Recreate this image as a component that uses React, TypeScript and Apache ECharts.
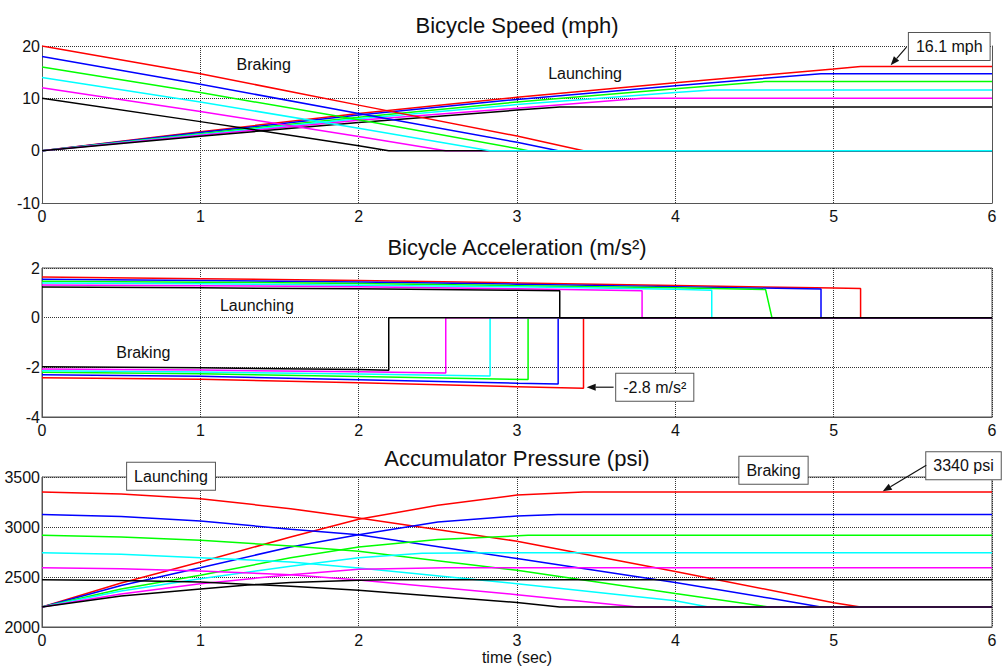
import React, { useEffect, useRef } from 'react';
import * as echarts from 'echarts';

const FONT = '"Liberation Sans", Arial, Helvetica, sans-serif';
const COLORS = ['#ff0000', '#0000ff', '#00ff00', '#00ffff', '#ff00ff', '#000000'];

const TITLES = ['Bicycle Speed (mph)', 'Bicycle Acceleration (m/s\u00B2)', 'Accumulator Pressure (psi)'];
const X_LABEL = 'time (sec)';
const TIME_RANGE = [0, 6, 1];
const SPEED_RANGE = [-10, 20, 10];
const ACCEL_RANGE = [-4, 2, 2];
const PRESSURE_RANGE = [2000, 3500, 500];

// ---- Bicycle speed (mph): braking ----
const spdBrkRed = [[0, 20], [1, 14.7], [2, 8.7], [3, 2.8], [3.42, 0], [6, 0]];
const spdBrkBlue = [[0, 18], [1, 12.7], [2, 7.1], [3, 1.6], [3.26, 0], [6, 0]];
const spdBrkGreen = [[0, 16], [1, 11.1], [2, 5.9], [3, 0.4], [3.07, 0], [6, 0]];
const spdBrkCyan = [[0, 14], [1, 9.3], [2, 4.3], [2.83, 0], [6, 0]];
const spdBrkMagenta = [[0, 12], [1, 7.5], [2, 2.7], [2.55, 0], [6, 0]];
const spdBrkBlack = [[0, 10], [1, 5.55], [2, 0.95], [2.19, 0], [6, 0]];
// ---- Bicycle speed (mph): launching ----
const spdLchRed = [[0, 0], [1, 3.6], [2, 7.1], [3, 10.2], [4, 13.0], [5, 15.6], [5.17, 16.1], [6, 16.1]];
const spdLchBlue = [[0, 0], [1, 3.45], [2, 6.8], [3, 9.8], [4, 12.4], [4.92, 14.7], [6, 14.7]];
const spdLchGreen = [[0, 0], [1, 3.25], [2, 6.4], [3, 9.3], [4, 11.85], [4.57, 13.2], [6, 13.2]];
const spdLchCyan = [[0, 0], [1, 3.1], [2, 6.1], [3, 8.8], [4, 11.1], [4.23, 11.6], [6, 11.6]];
const spdLchMagenta = [[0, 0], [1, 2.95], [2, 5.8], [3, 8.1], [3.79, 10.0], [6, 10.0]];
const spdLchBlack = [[0, 0], [1, 2.75], [2, 5.4], [3, 7.75], [3.27, 8.35], [6, 8.35]];

// ---- Bicycle acceleration (m/s^2): braking ----
const accBrkRed = [[0, -2.42], [1, -2.48], [2, -2.62], [3, -2.78], [3.42, -2.84], [3.42, 0], [6, 0]];
const accBrkBlue = [[0, -2.3], [1, -2.36], [2, -2.5], [3, -2.64], [3.26, -2.67], [3.26, 0], [6, 0]];
const accBrkGreen = [[0, -2.2], [1, -2.26], [2, -2.37], [3.07, -2.49], [3.07, 0], [6, 0]];
const accBrkCyan = [[0, -2.14], [1, -2.19], [2, -2.27], [2.83, -2.35], [2.83, 0], [6, 0]];
const accBrkMagenta = [[0, -2.07], [1, -2.11], [2, -2.18], [2.55, -2.23], [2.55, 0], [6, 0]];
const accBrkBlack = [[0, -1.98], [1, -2.02], [2, -2.09], [2.19, -2.12], [2.19, 0], [6, 0]];
// ---- Bicycle acceleration (m/s^2): launching ----
const accLchRed = [[0, 1.64], [1, 1.57], [2, 1.5], [3, 1.4], [4, 1.3], [5, 1.19], [5.17, 1.17], [5.17, 0], [6, 0]];
const accLchBlue = [[0, 1.55], [1, 1.5], [2, 1.44], [3, 1.35], [4, 1.25], [4.92, 1.15], [4.92, 0], [6, 0]];
const accLchGreen = [[0, 1.47], [1, 1.43], [2, 1.38], [3, 1.29], [4, 1.2], [4.57, 1.13], [4.61, 0], [6, 0]];
const accLchCyan = [[0, 1.4], [1, 1.37], [2, 1.31], [3, 1.24], [4, 1.14], [4.23, 1.1], [4.23, 0], [6, 0]];
const accLchMagenta = [[0, 1.32], [1, 1.29], [2, 1.24], [3, 1.16], [3.79, 1.08], [3.79, 0], [6, 0]];
const accLchBlack = [[0, 1.23], [1, 1.2], [2, 1.16], [3, 1.1], [3.27, 1.08], [3.27, 0], [6, 0]];

// ---- Accumulator pressure (psi): launching ----
const prsLchRed = [[0, 3350], [0.5, 3330], [1, 3283], [1.57, 3183], [2, 3090], [3, 2858], [4, 2555], [5, 2243], [5.17, 2200], [6, 2200]];
const prsLchBlue = [[0, 3125], [0.5, 3105], [1, 3060], [1.57, 2977], [2, 2923], [3, 2685], [4, 2445], [4.6, 2287], [4.92, 2200], [6, 2200]];
const prsLchGreen = [[0, 2917], [0.5, 2900], [1, 2867], [1.57, 2810], [2, 2757], [3, 2567], [4, 2335], [4.59, 2200], [6, 2200]];
const prsLchCyan = [[0, 2743], [0.5, 2728], [1, 2693], [1.57, 2650], [2, 2590], [3, 2433], [4, 2262], [4.21, 2200], [6, 2200]];
const prsLchMagenta = [[0, 2593], [0.5, 2582], [1, 2560], [1.57, 2523], [2, 2470], [3, 2323], [3.76, 2200], [6, 2200]];
const prsLchBlack = [[0, 2473], [0.5, 2465], [1, 2450], [1.57, 2407], [2, 2367], [3, 2245], [3.27, 2200], [6, 2200]];
// ---- Accumulator pressure (psi): braking ----
const prsBrkRed = [[0, 2200], [0.5, 2440], [1, 2650], [1.57, 2900], [2, 3077], [2.5, 3217], [3, 3320], [3.42, 3350], [6, 3350]];
const prsBrkBlue = [[0, 2200], [0.5, 2415], [1, 2593], [1.57, 2800], [2, 2923], [2.5, 3050], [3, 3110], [3.26, 3125], [6, 3125]];
const prsBrkGreen = [[0, 2200], [0.5, 2380], [1, 2517], [1.57, 2693], [2, 2800], [2.5, 2875], [3.07, 2917], [6, 2917]];
const prsBrkCyan = [[0, 2200], [0.5, 2360], [1, 2483], [1.57, 2607], [2, 2693], [2.4, 2737], [2.83, 2743], [6, 2743]];
const prsBrkMagenta = [[0, 2200], [0.5, 2330], [1, 2433], [1.57, 2523], [2, 2577], [2.55, 2593], [6, 2593]];
const prsBrkBlack = [[0, 2200], [0.5, 2310], [1, 2380], [1.3, 2420], [1.57, 2445], [2, 2468], [2.19, 2473], [6, 2473]];

// plain text annotations: [plot, text, t, value]
const NOTES: [number, string, number, number][] = [
  [0, 'Braking', 1.4, 16.4],
  [0, 'Launching', 3.43, 14.8],
  [1, 'Launching', 1.357, 0.49],
  [1, 'Braking', 0.64, -1.42],
];
// boxed annotations: [plot, text, t, value]
const BOXES: [number, string, number, number][] = [
  [0, '16.1 mph', 5.73, 19.9],
  [1, '-2.8 m/s\u00B2', 3.87, -2.8],
  [2, 'Launching', 0.815, 3507],
  [2, 'Braking', 4.62, 3567],
  [2, '3340 psi', 5.82, 3612],
];
// arrows: [plot, fromT, fromV, toT, toV]
const ARROWS: [number, number, number, number, number][] = [
  [0, 5.46, 19.8, 5.36, 16.3],
  [1, 3.61, -2.8, 3.44, -2.8],
  [2, 5.585, 3617, 5.31, 3357],
];

const GRIDS = [
  { left: 42, right: 10, top: 46, height: 157 },
  { left: 42, right: 10, top: 268, height: 149 },
  { left: 42, right: 10, top: 477, height: 150 },
];

function lineSeries(data: number[][], color: string, gi: number) {
  return {
    type: 'line',
    data,
    xAxisIndex: gi,
    yAxisIndex: gi,
    showSymbol: false,
    symbol: 'none',
    silent: true,
    lineStyle: { color, width: 1.5 },
    itemStyle: { color },
  };
}

function xAxis(gi: number) {
  return {
    type: 'value',
    gridIndex: gi,
    min: TIME_RANGE[0],
    max: TIME_RANGE[1],
    interval: TIME_RANGE[2],
    axisLine: { show: true, onZero: false, lineStyle: { color: '#555', width: 1 } },
    axisTick: { show: false },
    axisLabel: { fontSize: 16, color: '#111', fontFamily: FONT, margin: 5 },
    splitLine: { show: true, lineStyle: { type: 'dotted', color: '#333', width: 1 } },
    ...(gi === 2
      ? { name: X_LABEL, nameLocation: 'middle', nameGap: 22, nameTextStyle: { fontSize: 16, color: '#111', fontFamily: FONT } }
      : {}),
  };
}

function yAxis(gi: number, r: number[]) {
  return {
    type: 'value',
    gridIndex: gi,
    min: r[0],
    max: r[1],
    interval: r[2],
    axisLine: { show: true, onZero: false, lineStyle: { color: '#555', width: 1 } },
    axisTick: { show: false },
    axisLabel: { fontSize: 16, color: '#111', fontFamily: FONT, margin: 2, formatter: (v: number) => String(v) },
    splitLine: { show: true, lineStyle: { type: 'dotted', color: '#333', width: 1 } },
  };
}

export default function App() {
  const ref = useRef<HTMLDivElement>(null);
  useEffect(() => {
    document.body.style.margin = '0';
    const chart = echarts.init(ref.current!, null, { renderer: 'svg' });
    const speedSeries = [
      spdLchRed, spdLchBlue, spdLchGreen, spdLchCyan, spdLchMagenta, spdLchBlack,
    ].map((d, i) => lineSeries(d, COLORS[i], 0));
    const speedBrk = [
      [spdBrkRed, 0], [spdBrkBlue, 1], [spdBrkGreen, 2], [spdBrkMagenta, 4], [spdBrkBlack, 5], [spdBrkCyan, 3],
    ].map(([d, i]: any) => lineSeries(d, COLORS[i], 0));
    const accSeries = [
      accBrkRed, accLchRed, accBrkBlue, accLchBlue, accBrkGreen, accLchGreen,
      accBrkCyan, accLchCyan, accBrkMagenta, accLchMagenta, accBrkBlack, accLchBlack,
    ].map((d, i) => lineSeries(d, COLORS[Math.floor(i / 2)], 1));
    const prsSeries = [
      prsLchRed, prsBrkRed, prsLchBlue, prsBrkBlue, prsLchGreen, prsBrkGreen,
      prsLchCyan, prsBrkCyan, prsLchMagenta, prsBrkMagenta, prsLchBlack, prsBrkBlack,
    ].map((d, i) => lineSeries(d, COLORS[Math.floor(i / 2)], 2));

    const titleTops = [14, 236, 447];
    chart.setOption({
      animation: false,
      backgroundColor: '#ffffff',
      title: TITLES.map((t, i) => ({
        text: t,
        left: 517,
        top: titleTops[i],
        textAlign: 'center',
        padding: 0,
        textStyle: { fontSize: 22, fontWeight: 'normal', color: '#111', fontFamily: FONT },
      })),
      grid: GRIDS.map((g, i) => ({
        ...g,
        containLabel: false,
        outerBoundsMode: 'none',
        show: i > 0,
        borderColor: '#555',
        borderWidth: 1,
      })),
      xAxis: [xAxis(0), xAxis(1), xAxis(2)],
      yAxis: [
        yAxis(0, SPEED_RANGE),
        yAxis(1, ACCEL_RANGE),
        yAxis(2, PRESSURE_RANGE),
        {
          type: 'value', gridIndex: 0, position: 'right',
          min: SPEED_RANGE[0], max: SPEED_RANGE[1], interval: SPEED_RANGE[2],
          axisLine: { show: true, onZero: false, lineStyle: { color: '#555', width: 1 } },
          axisTick: { show: false }, axisLabel: { show: false }, splitLine: { show: false },
        },
      ],
      series: [...speedSeries, ...speedBrk, ...accSeries, ...prsSeries],
    });

    const px = (gi: number, t: number, v: number) =>
      chart.convertToPixel({ gridIndex: gi } as any, [t, v]) as number[];
    const font = `16px ${FONT}`;
    const graphic: any[] = [];
    NOTES.forEach(([gi, text, t, v]) => {
      const [x, y] = px(gi, t, v);
      graphic.push({
        type: 'text', x, y, z: 100,
        style: { text, font, fill: '#111', align: 'center', verticalAlign: 'middle', textAlign: 'center', textVerticalAlign: 'middle' },
      });
    });
    BOXES.forEach(([gi, text, t, v]) => {
      const [x, y] = px(gi, t, v);
      graphic.push({
        type: 'text', x, y, z: 100,
        style: {
          text, font, fill: '#111', align: 'center', verticalAlign: 'middle', textAlign: 'center', textVerticalAlign: 'middle',
          backgroundColor: '#ffffff', borderColor: '#555', borderWidth: 1, padding: [6, 7, 5, 7],
        },
      });
    });
    ARROWS.forEach(([gi, t0, v0, t1, v1]) => {
      const [x0, y0] = px(gi, t0, v0);
      const [x1, y1] = px(gi, t1, v1);
      const dx = x1 - x0, dy = y1 - y0;
      const len = Math.hypot(dx, dy) || 1;
      const ux = dx / len, uy = dy / len;
      const hl = 9, hw = 3.5;
      const bx = x1 - ux * hl, by = y1 - uy * hl;
      graphic.push({
        type: 'line', z: 100,
        shape: { x1: x0, y1: y0, x2: bx, y2: by },
        style: { stroke: '#111', lineWidth: 1.2 },
      });
      graphic.push({
        type: 'polygon', z: 100,
        shape: { points: [[x1, y1], [bx - uy * hw, by + ux * hw], [bx + uy * hw, by - ux * hw]] },
        style: { fill: '#111' },
      });
    });
    chart.setOption({ graphic });
    return () => chart.dispose();
  }, []);
  return <div ref={ref} style={{ width: 1002, height: 668 }} />;
}
